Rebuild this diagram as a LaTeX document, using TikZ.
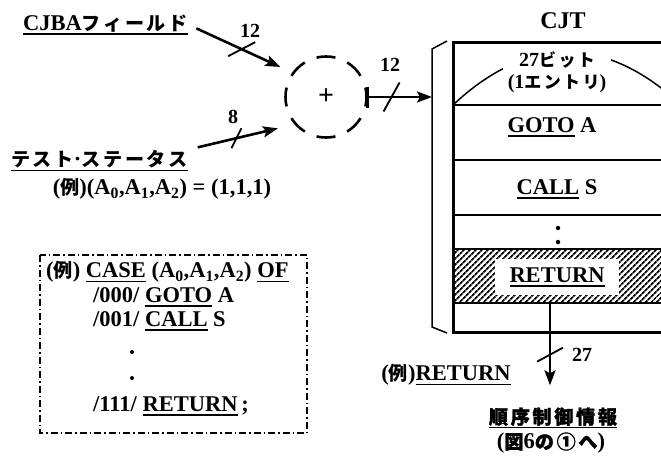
\documentclass[tikz,border=0pt]{standalone}
\usepackage{fontspec}
\setmainfont{Liberation Serif}
\newfontfamily\jp[Scale=0.85, LetterSpace=14]{Noto Sans CJK JP}
\newfontfamily\jpb[Scale=0.85, LetterSpace=14, FakeBold=1.5]{Noto Sans CJK JP}
\usetikzlibrary{arrows.meta, positioning, calc, patterns.meta}
\newsavebox\undlbox
\newcommand{\undl}[1]{\sbox\undlbox{#1}\rlap{\rule[-4.5pt]{\wd\undlbox}{1.7pt}}\usebox\undlbox}
\newcommand{\ja}[1]{{\jp #1}}
\tikzset{
  every picture/.style={x=1pt, y=-1pt, line width=2.4pt},
  lbl/.style={font=\bfseries\fontsize{22.5}{26}\selectfont, inner sep=0pt},
  num/.style={font=\bfseries\fontsize{20}{22}\selectfont, inner sep=0pt},
  arrow/.style={-{Stealth[length=15pt, width=11pt, inset=3pt]}, line width=2.6pt},
  tick/.style={line width=1.8pt},
  adder/.style={circle, draw, minimum size=81pt, inner sep=0pt, line width=2.6pt, dash pattern=on 19pt off 12.8pt, dash phase=9.5pt},
  frame/.style={line width=3pt},
  rowline/.style={line width=1.8pt},
  brace/.style={line width=1.5pt},
  dot/.style={circle, fill, inner sep=0pt, minimum size=4.5pt},
  codebox/.style={line width=1.6pt, dash pattern=on 7pt off 3pt on 1.5pt off 3pt},
}
\newcommand{\bitmark}[2]{\draw[tick] ($(#1)+(#2)$) -- ($(#1)-(#2)$);}

\begin{document}
\begin{tikzpicture}
  \useasboundingbox (0,0) rectangle (661,456);
  \clip (0,0) rectangle (661,456);
  % inputs
  \node[lbl, anchor=west] (cjba) at (22,25) {\undl{CJBA\ja{フィールド}}};
  \node[lbl, anchor=west] (stat) at (10,161) {\undl{\ja{テスト}·\ja{ステータス}}};
  \node[lbl] (stex) at (162,189) {(\ja{例})(A\textsubscript{0},A\textsubscript{1},A\textsubscript{2}) = (1,1,1)};
  % adder
  \node[adder, font=\bfseries\fontsize{28}{28}\selectfont] (add) at (326,97) {+};
  \draw[arrow, shorten <=8pt, shorten >=13pt] (cjba.east) -- coordinate[pos=.51] (t1) (add.144);
  \draw[arrow, shorten <=9pt, shorten >=17pt] (stat.north east) -- coordinate[pos=.45] (t2) (add.221);
  \bitmark{t1}{13.5,-7}
  \bitmark{t2}{5,-10}
  \node[num] (n12a) at (250,31) {12};
  \node[num] (n8) at (233,117) {8};
  % into the table
  \coordinate (brk) at (432,97);
  \draw[arrow] (add.east) -- coordinate[pos=.37] (t3) (brk);
  \draw[frame] ($(add.east)+(0,-10.5)$) -- ($(add.east)+(0,10.5)$);
  \bitmark{t3}{8,-14.5}
  \node[num] (n12b) at (390,65) {12};
  \draw[brace] (447,41) -- (432,49) -- (432,327) -- (447,333);
  % CJT
  \node[lbl, font=\bfseries\fontsize{24}{26}\selectfont] (cjt) at (563,21) {CJT};
  \fill[pattern={Lines[angle=45, distance=4pt, line width=1.8pt]}] (453,249) rectangle (700,303);
  \foreach \y in {105,160,215,249,303}
    { \draw[rowline] (453,\y) -- (700,\y); }
  \draw[frame] (453,42) rectangle (700,332);
  \draw[brace] (453,105) parabola bend (567,52) (681,105);
  \node[num, fill=white, align=center, minimum width=108pt, minimum height=50pt] (bits) at (557,72)
    {27\ja{ビット}\\(1\ja{エントリ})};
  \node[lbl] (goto) at (552,127) {\undl{GOTO} A};
  \node[lbl] (call) at (557,189) {\undl{CALL} S};
  \foreach \y in {228,242}
    { \node[dot] (col\y) at (558,\y) {}; }
  \node[lbl, fill=white, minimum width=124pt, minimum height=36pt] (ret) at (557,277) {\undl{RETURN}};
  % output
  \node[lbl] (info) at (553,418) {\undl{{\jpb 順序制御情報}}};
  \node[lbl] (fig) at (551,443) {({\jpb 図}6{\jpb の①へ})};
  \coordinate (rtop) at (550,303);
  \draw[arrow, shorten >=21pt] (rtop) -- coordinate[pos=.5] (t4) (rtop |- info.north);
  \bitmark{t4}{13,-7}
  \node[num] (n27) at (582,355) {27};
  \node[lbl] (rex) at (446,375) {(\ja{例})\undl{RETURN}};
  % example code
  \draw[codebox] (40,255) rectangle (307,433);
  \node[lbl, anchor=west] (case) at (45,272) {(\ja{例}) \undl{CASE} (A\textsubscript{0},A\textsubscript{1},A\textsubscript{2}) \undl{OF}};
  \node[lbl, anchor=west] (c0) at (92,297) {/000/ \undl{GOTO} A};
  \node[lbl, anchor=west] (c1) at (92,321) {/001/ \undl{CALL} S};
  \foreach \y in {352,378}
    { \node[dot, minimum size=4pt] (cd\y) at (132,\y) {}; }
  \node[lbl, anchor=west] (c7) at (92,406) {/111/ \undl{RETURN}\,;};
\end{tikzpicture}
\end{document}
